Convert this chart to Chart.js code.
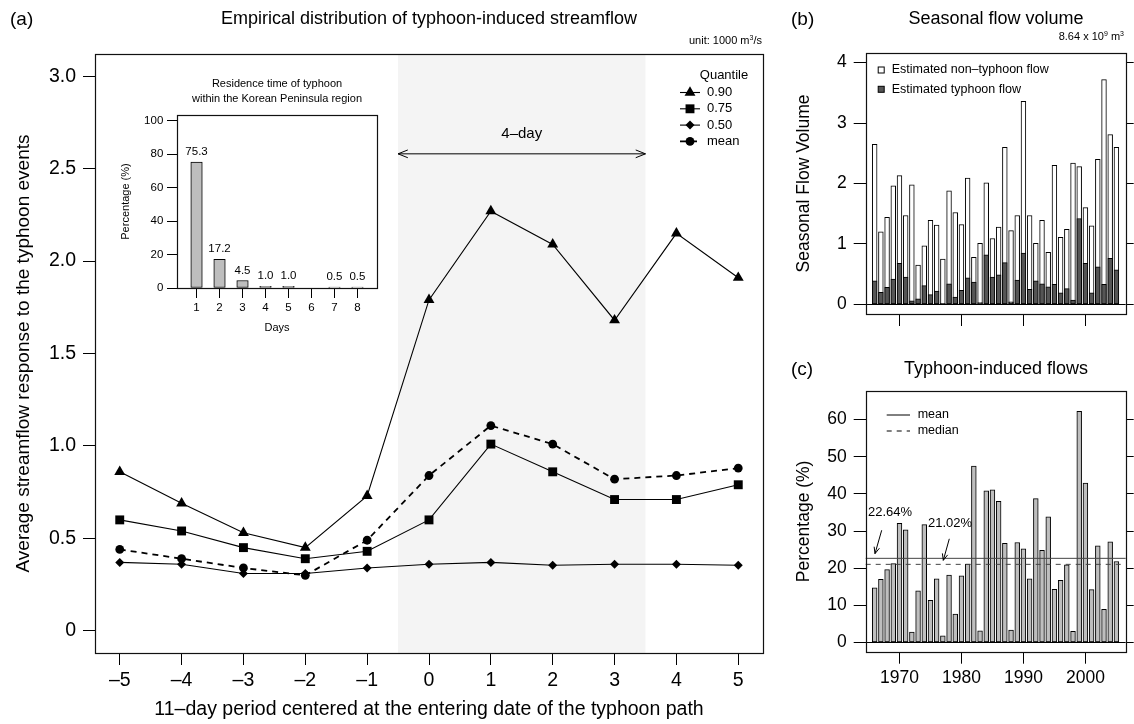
<!DOCTYPE html>
<html>
<head>
<meta charset="utf-8">
<script src="https://cdn.jsdelivr.net/npm/chart.js@4.4.0/dist/chart.umd.min.js"></script>
<style>
body { margin:0; background:#fff; }
#page { position:relative; width:1134px; height:724px; overflow:hidden; font-family:'Liberation Sans', Arial, Helvetica, sans-serif; color:#000; }
canvas { position:absolute; }
.txt { position:absolute; white-space:nowrap; line-height:1; }
.c { transform:translate(-50%,-50%); }
.l { transform:translate(0,-50%); }
.r { transform:translate(-100%,-50%); }
</style>
</head>
<body>
<div id="page">
  <canvas id="chartA" width="775" height="724" style="left:0;top:0"></canvas>
  <canvas id="chartInset" width="300" height="290" style="left:100px;top:60px"></canvas>
  <canvas id="chartB" width="359" height="340" style="left:775px;top:0"></canvas>
  <canvas id="chartC" width="359" height="384" style="left:775px;top:340px"></canvas>

  <div class="txt l" style="left:10px;top:18px;font-size:19px">(a)</div>
  <div class="txt c" style="left:429px;top:18px;font-size:18px">Empirical distribution of typhoon-induced streamflow</div>
  <div class="txt r" style="left:762px;top:40px;font-size:11px">unit: 1000 m<sup style="font-size:7px">3</sup>/s</div>
  <div class="txt c" style="left:277px;top:83px;font-size:11px">Residence time of typhoon</div>
  <div class="txt c" style="left:277px;top:98px;font-size:11px">within the Korean Peninsula region</div>

  <div class="txt l" style="left:791px;top:18px;font-size:19px">(b)</div>
  <div class="txt c" style="left:996px;top:18px;font-size:18px">Seasonal flow volume</div>
  <div class="txt r" style="left:1124px;top:36px;font-size:11px">8.64 x 10<sup style="font-size:7px">9</sup> m<sup style="font-size:7px">3</sup></div>

  <div class="txt l" style="left:791px;top:368px;font-size:19px">(c)</div>
  <div class="txt c" style="left:996px;top:368px;font-size:18px">Typhoon-induced flows</div>
</div>
<script>
const FONT = "'Liberation Sans', Arial, Helvetica, sans-serif";
Chart.defaults.font.family = FONT;
Chart.defaults.color = '#000';
Chart.defaults.animation = false;
Chart.defaults.plugins.legend.display = false;
Chart.defaults.plugins.tooltip.enabled = false;

// (a) streamflow around the entering day
const dayOffsets = [-5, -4, -3, -2, -1, 0, 1, 2, 3, 4, 5];
const q90 = [0.86, 0.69, 0.53, 0.45, 0.73, 1.79, 2.27, 2.09, 1.68, 2.15, 1.91];
const q75 = [0.60, 0.54, 0.45, 0.39, 0.43, 0.60, 1.01, 0.86, 0.71, 0.71, 0.79];
const q50 = [0.37, 0.36, 0.31, 0.31, 0.34, 0.36, 0.37, 0.355, 0.36, 0.36, 0.355];
const meanFlow = [0.44, 0.39, 0.34, 0.30, 0.49, 0.84, 1.11, 1.01, 0.82, 0.84, 0.88];
const shadeDays = [-0.5, 3.5];
const yTicksA = [0, 0.5, 1, 1.5, 2, 2.5, 3];

// inset: residence time
const residenceDays = [1, 2, 3, 4, 5, 6, 7, 8];
const residencePct = [75.3, 17.2, 4.5, 1.0, 1.0, 0, 0.5, 0.5];
const insetYTicks = [0, 20, 40, 60, 80, 100];

// (b) and (c)
const years = [1966, 1967, 1968, 1969, 1970, 1971, 1972, 1973, 1974, 1975,
  1976, 1977, 1978, 1979, 1980, 1981, 1982, 1983, 1984, 1985,
  1986, 1987, 1988, 1989, 1990, 1991, 1992, 1993, 1994, 1995,
  1996, 1997, 1998, 1999, 2000, 2001, 2002, 2003, 2004, 2005];
const totalFlow = [2.65, 1.20, 1.44, 1.96, 2.13, 1.47, 1.98, 0.65, 0.97, 1.39,
  1.31, 0.75, 1.88, 1.52, 1.32, 2.09, 0.78, 1.01, 2.01, 1.09,
  1.28, 2.60, 1.22, 1.47, 3.36, 1.47, 1.01, 1.39, 0.86, 2.30,
  1.11, 1.24, 2.34, 2.28, 1.60, 1.30, 2.40, 3.72, 2.81, 2.60];
const typhoonFlow = [0.39, 0.20, 0.28, 0.42, 0.68, 0.45, 0.06, 0.09, 0.31, 0.16,
  0.22, 0.015, 0.34, 0.12, 0.23, 0.44, 0.37, 0.03, 0.82, 0.45,
  0.49, 0.69, 0.04, 0.40, 0.85, 0.25, 0.39, 0.34, 0.29, 0.33,
  0.19, 0.26, 0.07, 1.42, 0.68, 0.19, 0.62, 0.33, 0.76, 0.57];
const typhoonPct = [14.7, 17.0, 19.6, 21.2, 32.1, 30.3, 2.8, 13.9, 31.7, 11.3,
  17.1, 1.8, 18.1, 7.6, 17.9, 21.1, 47.5, 3.1, 40.8, 41.1,
  38.0, 26.7, 3.3, 26.9, 25.2, 17.1, 38.7, 24.8, 33.8, 14.3,
  16.7, 20.9, 3.0, 62.2, 42.9, 14.2, 26.0, 8.9, 27.1, 21.8];
const statNames = ['mean', 'median'];
const pctStats = [22.64, 21.02];
const yearTicks = [1970, 1980, 1990, 2000];
const flowTicks = [0, 1, 2, 3, 4];
const pctTicks = [0, 10, 20, 30, 40, 50, 60];

function pts(xs, ys) { return xs.map((x, i) => ({x: x, y: ys[i]})); }

// R-like axis: fixed ticks, tick marks outside the box
function rScale(o) {
  return {
    type: 'linear',
    position: o.position,
    min: o.min, max: o.max,
    offset: false,
    afterBuildTicks: s => { s.ticks = o.ticks.map(v => ({value: v})); },
    afterFit: s => { if (s.isHorizontal()) s.height = o.size; else s.width = o.size; },
    grid: {offset: false, drawOnChartArea: false, drawTicks: true, tickLength: o.tick, tickColor: '#000', tickWidth: 1, color: '#000'},
    border: {display: false},
    ticks: {display: o.labels !== false, padding: o.pad || 0, font: {size: o.font || 12}, color: '#000',
      autoSkip: false, maxRotation: 0, minRotation: 0, callback: o.fmt || (v => String(v))},
    title: o.title ? {display: true, text: o.title, color: '#000', font: {size: o.titleFont}, padding: o.titlePad} : {display: false}
  };
}

const framePlugin = {
  id: 'frame',
  afterDatasetsDraw(chart) {
    const {ctx, chartArea: a} = chart;
    ctx.save();
    ctx.strokeStyle = '#111';
    ctx.lineWidth = 1.2;
    ctx.strokeRect(Math.round(a.left) + 0.5, Math.round(a.top) + 0.5, Math.round(a.right - a.left), Math.round(a.bottom - a.top));
    ctx.restore();
  }
};

function arrowHead(ctx, x0, y0, x1, y1, len, ang) {
  const a = Math.atan2(y1 - y0, x1 - x0);
  ctx.beginPath();
  ctx.moveTo(x1 - len * Math.cos(a - ang), y1 - len * Math.sin(a - ang));
  ctx.lineTo(x1, y1);
  ctx.lineTo(x1 - len * Math.cos(a + ang), y1 - len * Math.sin(a + ang));
  ctx.stroke();
}

function text(ctx, str, x, y, size, align) {
  ctx.font = size + 'px ' + FONT;
  ctx.fillStyle = '#000';
  ctx.textAlign = align || 'center';
  ctx.textBaseline = 'middle';
  ctx.fillText(str, x, y);
}

// ---------- (a) ----------
function lineSet(label, data, style, radius, dash, width) {
  return {
    label: label, data: pts(dayOffsets, data),
    borderColor: '#000', backgroundColor: '#000', borderWidth: width, borderDash: dash,
    pointStyle: style, pointRadius: radius, pointBackgroundColor: '#000', pointBorderColor: '#000',
    pointBorderWidth: 0, tension: 0, fill: false
  };
}

const shadePlugin = {
  id: 'shade',
  beforeDatasetsDraw(chart) {
    const {ctx, chartArea: a, scales: {x}} = chart;
    const x0 = x.getPixelForValue(shadeDays[0]), x1 = x.getPixelForValue(shadeDays[1]);
    ctx.save();
    ctx.fillStyle = '#f4f4f4';
    ctx.fillRect(x0, a.top, x1 - x0, a.bottom - a.top);
    ctx.restore();
  },
  afterDatasetsDraw(chart) {
    const {ctx, chartArea: a, scales: {x, y}} = chart;
    const x0 = x.getPixelForValue(shadeDays[0]), x1 = x.getPixelForValue(shadeDays[1]);
    const ya = y.getPixelForValue(2.58);
    ctx.save();
    ctx.strokeStyle = '#000';
    ctx.lineWidth = 1;
    ctx.beginPath(); ctx.moveTo(x0, ya); ctx.lineTo(x1, ya); ctx.stroke();
    arrowHead(ctx, x1, ya, x0, ya, 10.5, 0.38);
    arrowHead(ctx, x0, ya, x1, ya, 10.5, 0.38);
    text(ctx, '4\u2013day', (x0 + x1) / 2, y.getPixelForValue(2.69), 15);

    // legend
    const lx = a.left + 585, tx = a.left + 612;
    text(ctx, 'Quantile', a.left + 629, a.top + 21, 13);
    chart.data.datasets.forEach((ds, i) => {
      const ly = a.top + 38.5 + i * 16.3;
      ctx.strokeStyle = '#000';
      ctx.lineWidth = ds.borderWidth;
      ctx.setLineDash(ds.borderDash);
      ctx.beginPath(); ctx.moveTo(lx, ly); ctx.lineTo(lx + 20, ly); ctx.stroke();
      ctx.setLineDash([]);
      ctx.fillStyle = '#000';
      Chart.helpers.drawPoint(ctx, {pointStyle: ds.pointStyle, radius: ds.pointRadius, rotation: 0, borderWidth: 0}, lx + 10, ly);
      text(ctx, ds.label, tx, ly, 13, 'left');
    });
    ctx.restore();
  }
};

new Chart(document.getElementById('chartA'), {
  type: 'line',
  data: {
    datasets: [
      lineSet('0.90', q90, 'triangle', 6.3, [], 1.1),
      lineSet('0.75', q75, 'rect', 6.3, [], 1.1),
      lineSet('0.50', q50, 'rectRot', 4.5, [], 1.1),
      lineSet('mean', meanFlow, 'circle', 4.4, [6, 5], 1.8)
    ]
  },
  options: {
    responsive: false,
    layout: {padding: {left: 0, top: 54, right: 12, bottom: 0}},
    scales: {
      x: rScale({position: 'bottom', min: -5.4, max: 5.4, ticks: dayOffsets, size: 71, tick: 12, pad: 4, font: 19.5,
        fmt: v => v < 0 ? '\u2013' + Math.abs(v) : String(v),
        title: '11\u2013day period centered at the entering date of the typhoon path', titleFont: 19.5, titlePad: {top: 0, bottom: 2.3}}),
      y: rScale({position: 'left', min: -0.12, max: 3.12, ticks: yTicksA, size: 95, tick: 12, pad: 7, font: 19.5,
        fmt: v => v === 0 ? '0' : v.toFixed(1),
        title: 'Average streamflow response to the typhoon events', titleFont: 19, titlePad: {top: 12.6, bottom: 0}})
    }
  },
  plugins: [shadePlugin, framePlugin]
});

// ---------- inset ----------
const barLabelPlugin = {
  id: 'barLabels',
  afterDatasetsDraw(chart) {
    const {ctx, scales: {x, y}} = chart;
    ctx.save();
    residencePct.forEach((v, i) => {
      if (v > 0) text(ctx, v.toFixed(1), x.getPixelForValue(residenceDays[i]), y.getPixelForValue(v) - 10, 11.5);
    });
    ctx.restore();
  }
};

new Chart(document.getElementById('chartInset'), {
  type: 'bar',
  data: {
    datasets: [{
      data: pts(residenceDays, residencePct),
      backgroundColor: '#bebebe', borderColor: '#000', borderWidth: 1, borderSkipped: false,
      barThickness: 11.5
    }]
  },
  options: {
    responsive: false,
    layout: {padding: {left: 0, top: 55, right: 23, bottom: 0}},
    scales: {
      x: rScale({position: 'bottom', min: 0.15, max: 8.85, ticks: residenceDays, size: 62, tick: 10, pad: 3.4, font: 11.5,
        title: 'Days', titleFont: 11, titlePad: {top: 0, bottom: 15}}),
      y: rScale({position: 'left', min: 0, max: 103.4, ticks: insetYTicks, size: 77, tick: 10, pad: 3.7, font: 11.5,
        title: 'Percentage (%)', titleFont: 11, titlePad: {top: 19.4, bottom: 0}})
    }
  },
  plugins: [barLabelPlugin, framePlugin]
});

// ---------- (b) ----------
const zeroLinePlugin = {
  id: 'zeroLine',
  afterDatasetsDraw(chart) {
    const {ctx, chartArea: a, scales: {y}} = chart;
    const y0 = Math.round(y.getPixelForValue(0)) + 0.5;
    ctx.save();
    ctx.strokeStyle = '#000';
    ctx.lineWidth = 1;
    ctx.beginPath(); ctx.moveTo(a.left, y0); ctx.lineTo(a.right, y0); ctx.stroke();
    ctx.restore();
  }
};

const flowLegendPlugin = {
  id: 'flowLegend',
  afterDatasetsDraw(chart) {
    const {ctx, chartArea: a} = chart;
    ctx.save();
    chart.data.datasets.forEach((ds, i) => {
      const ly = a.top + 17 + i * 19.3;
      ctx.fillStyle = ds.backgroundColor;
      ctx.fillRect(a.left + 12.5, ly - 3, 6, 6);
      ctx.strokeStyle = '#000';
      ctx.lineWidth = 1;
      ctx.strokeRect(a.left + 12.5, ly - 3, 6, 6);
      text(ctx, ds.label, a.left + 26, ly, 12.5, 'left');
    });
    ctx.restore();
  }
};

new Chart(document.getElementById('chartB'), {
  type: 'bar',
  data: {
    datasets: [
      {label: 'Estimated non\u2013typhoon flow', data: pts(years, totalFlow), backgroundColor: '#ffffff',
        borderColor: '#000', borderWidth: 1, borderSkipped: false, grouped: false, order: 1, barThickness: 4.8},
      {label: 'Estimated typhoon flow', data: pts(years, typhoonFlow), backgroundColor: '#555555',
        borderColor: '#000', borderWidth: 1, borderSkipped: false, grouped: false, order: 0, barThickness: 4.8}
    ]
  },
  options: {
    responsive: false,
    layout: {padding: {left: 0, top: 53, right: 0, bottom: 0}},
    scales: {
      x: rScale({position: 'bottom', min: 1964.55, max: 2006.5, ticks: yearTicks, size: 26, tick: 12, labels: false}),
      y: rScale({position: 'left', min: -0.16, max: 4.16, ticks: flowTicks, size: 90.7, tick: 12, pad: 7, font: 17.5,
        title: 'Seasonal Flow Volume', titleFont: 17.5, titlePad: {top: 18.5, bottom: 0}}),
      yR: rScale({position: 'right', min: -0.16, max: 4.16, ticks: flowTicks, size: 8.3, tick: 8, labels: false})
    }
  },
  plugins: [zeroLinePlugin, flowLegendPlugin, framePlugin]
});

// ---------- (c) ----------
const statPlugin = {
  id: 'stats',
  afterDatasetsDraw(chart) {
    const {ctx, chartArea: a, scales: {x, y}} = chart;
    const dashes = [[], [5, 5]];
    ctx.save();
    ctx.lineWidth = 1;
    pctStats.forEach((v, i) => {
      const yy = y.getPixelForValue(v);
      ctx.strokeStyle = '#444';
      ctx.setLineDash(dashes[i]);
      ctx.beginPath(); ctx.moveTo(a.left, yy); ctx.lineTo(a.right, yy); ctx.stroke();
      // legend
      const ly = a.top + 24 + i * 16;
      ctx.strokeStyle = '#000';
      ctx.beginPath(); ctx.moveTo(a.left + 21, ly); ctx.lineTo(a.left + 44.3, ly); ctx.stroke();
      ctx.setLineDash([]);
      text(ctx, statNames[i], a.left + 52, ly, 12.5, 'left');
    });
    // labels with arrows
    ctx.strokeStyle = '#000';
    const notes = [
      {t: pctStats[0].toFixed(2) + '%', tx: 1968.47, ty: 35.1, x0: 1967.13, y0: 30.2, x1: 1966.05, y1: 23.9},
      {t: pctStats[1].toFixed(2) + '%', tx: 1978.15, ty: 32.0, x0: 1978.04, y0: 27.9, x1: 1977.07, y1: 22.1}
    ];
    notes.forEach(n => {
      text(ctx, n.t, x.getPixelForValue(n.tx), y.getPixelForValue(n.ty), 13);
      const px0 = x.getPixelForValue(n.x0), py0 = y.getPixelForValue(n.y0);
      const px1 = x.getPixelForValue(n.x1), py1 = y.getPixelForValue(n.y1);
      ctx.beginPath(); ctx.moveTo(px0, py0); ctx.lineTo(px1, py1); ctx.stroke();
      arrowHead(ctx, px0, py0, px1, py1, 7, 0.4);
    });
    ctx.restore();
  }
};

new Chart(document.getElementById('chartC'), {
  type: 'bar',
  data: {
    datasets: [{
      label: 'Typhoon-induced flow', data: pts(years, typhoonPct), backgroundColor: '#bebebe',
      borderColor: '#000', borderWidth: 1, borderSkipped: false, barThickness: 4.8
    }]
  },
  options: {
    responsive: false,
    layout: {padding: {left: 0, top: 51, right: 0, bottom: 0}},
    scales: {
      x: rScale({position: 'bottom', min: 1964.55, max: 2006.5, ticks: yearTicks, size: 72.3, tick: 12, pad: 4, font: 17.5}),
      y: rScale({position: 'left', min: -2.5, max: 67.7, ticks: pctTicks, size: 90.7, tick: 12, pad: 7, font: 17.5,
        title: 'Percentage (%)', titleFont: 17.5, titlePad: {top: 19, bottom: 0}}),
      yR: rScale({position: 'right', min: -2.5, max: 67.7, ticks: pctTicks, size: 8.3, tick: 8, labels: false})
    }
  },
  plugins: [zeroLinePlugin, statPlugin, framePlugin]
});
</script>
</body>
</html>
